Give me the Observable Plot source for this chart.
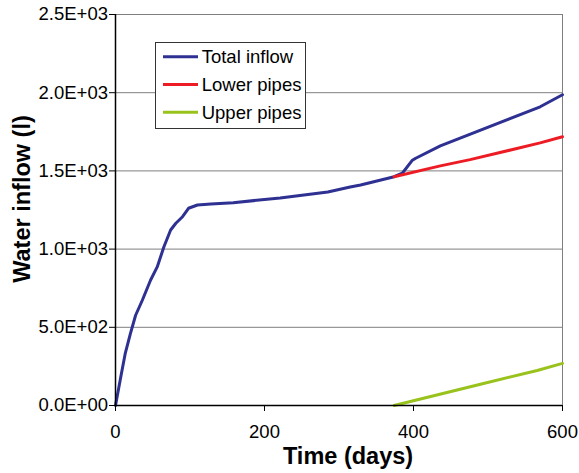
<!DOCTYPE html>
<html><head><meta charset="utf-8">
<script src="https://cdn.jsdelivr.net/npm/d3@7"></script>
<script src="https://cdn.jsdelivr.net/npm/@observablehq/plot@0.6"></script>
<style>body{margin:0;background:#fff}</style>
</head><body><div id="chart"></div>
<script>
const totalDays = [0, 7, 13, 20, 27, 36, 47, 56, 65, 74, 81, 90, 98, 110, 128, 158, 221, 285, 315, 329, 374, 385, 398, 403, 436, 570, 600];
const totalVals = [0, 181, 331, 460, 577, 673, 801, 886, 1015, 1122, 1165, 1207, 1261, 1282, 1288, 1297, 1327, 1365, 1397, 1410, 1463, 1485, 1566, 1581, 1660, 1910, 1987];
const lowerDays = [374, 436, 476, 570, 600];
const lowerVals = [1463, 1532, 1572, 1679, 1718];
const upperDays = [374, 494, 566, 600];
const upperVals = [0, 141, 224, 269];

const seriesNames = ["Total inflow", "Lower pipes", "Upper pipes"];
const seriesColors = ["#2e3192", "#ed1c24", "#99c31c"];
const yTicks = [0, 500, 1000, 1500, 2000, 2500];
const yTickLabels = ["0.0E+00", "5.0E+02", "1.0E+03", "1.5E+03", "2.0E+03", "2.5E+03"];
const xTicks = [0, 200, 400, 600];
const xTickLabels = ["0", "200", "400", "600"];

const rows = [];
[[totalDays, totalVals], [lowerDays, lowerVals], [upperDays, upperVals]].forEach(([ds, vs], k) => {
  ds.forEach((d, i) => rows.push({series: seriesNames[k], day: d, value: vs[i]}));
});

const FONT = "'Liberation Sans', Arial, sans-serif";
const plot = Plot.plot({
  width: 579, height: 473,
  marginLeft: 115, marginRight: 17, marginTop: 14, marginBottom: 68,
  style: {fontFamily: FONT, background: "#fff", color: "#000"},
  x: {domain: [0, 600]},
  y: {domain: [0, 2500]},
  color: {domain: seriesNames, range: seriesColors},
  marks: [
    Plot.ruleY(yTicks.slice(1), {stroke: "#7f7f7f", strokeWidth: 1}),
    Plot.ruleX([600], {stroke: "#7f7f7f", strokeWidth: 1}),
    Plot.line(rows, {x: "day", y: "value", z: "series", stroke: "series", strokeWidth: 3}),
    Plot.ruleY([0], {stroke: "#000", strokeWidth: 1.5}),
    Plot.ruleX([0], {stroke: "#000", strokeWidth: 1.5}),
    Plot.axisY({ticks: yTicks, tickFormat: () => "", tickSize: 6, label: null}),
    Plot.axisX({ticks: xTicks, tickFormat: () => "", tickSize: 6, label: null}),
    Plot.text(yTicks, {frameAnchor: "left", y: d => d, text: (d, i) => yTickLabels[i], textAnchor: "end", lineAnchor: "middle", dx: -7.5, fontSize: 18.5, fill: "#000"}),
    Plot.text(xTicks, {frameAnchor: "bottom", x: d => d, text: (d, i) => xTickLabels[i], textAnchor: "middle", lineAnchor: "middle", dy: 26.5, fontSize: 18.5, fill: "#000"}),
    Plot.text(["Water inflow (l)"], {frameAnchor: "left", textAnchor: "middle", lineAnchor: "middle", dx: -93, dy: -11, rotate: -90, fontWeight: "bold", fontSize: 23.5}),
    Plot.text(["Time (days)"], {frameAnchor: "bottom", textAnchor: "middle", lineAnchor: "middle", dx: 9, dy: 50.5, fontWeight: "bold", fontSize: 23.5})
  ]
});
document.getElementById("chart").appendChild(plot);

const svg = d3.select(plot);
const lg = svg.append("g").attr("font-family", FONT);
lg.append("rect").attr("x", 155.5).attr("y", 42.5).attr("width", 150).attr("height", 86)
  .attr("fill", "#fff").attr("stroke", "#333").attr("stroke-width", 1);
seriesNames.forEach((n, i) => {
  const y = 56.7 + i * 27.8;
  lg.append("line").attr("x1", 163).attr("x2", 198).attr("y1", y).attr("y2", y)
    .attr("stroke", seriesColors[i]).attr("stroke-width", 3);
  lg.append("text").attr("x", 201.7).attr("y", y).attr("dy", "0.35em")
    .attr("text-anchor", "start").attr("font-size", "18.5px").attr("fill", "#000").text(n);
});
</script>
</body></html>
